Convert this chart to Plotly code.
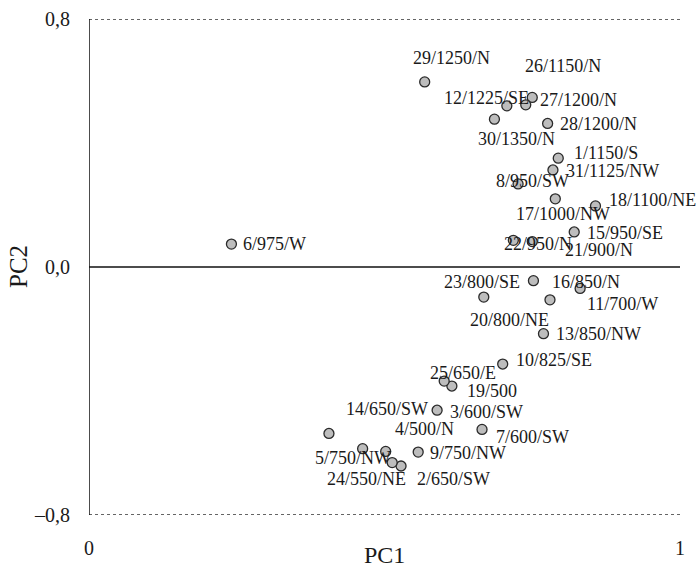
import plotly.graph_objects as go

# ---- data ----
sites = ["1/1150/S", "2/650/SW", "3/600/SW", "4/500/N", "5/750/NW", "6/975/W",
         "7/600/SW", "8/950/SW", "9/750/NW", "10/825/SE", "11/700/W", "12/1225/SE",
         "13/850/NW", "14/650/SW", "15/950/SE", "16/850/N", "17/1000/NW", "18/1100/NE",
         "19/500", "20/800/NE", "21/900/N", "22/950/N", "23/800/SE", "24/550/NE",
         "25/650/E", "26/1150/N", "27/1200/N", "28/1200/N", "29/1250/N", "30/1350/N",
         "31/1125/NW"]
pc1 = [0.794, 0.528, 0.589, 0.502, 0.463, 0.241, 0.665, 0.726, 0.557, 0.700,
       0.780, 0.707, 0.769, 0.406, 0.821, 0.831, 0.789, 0.857, 0.614, 0.668,
       0.750, 0.718, 0.752, 0.513, 0.601, 0.750, 0.739, 0.776, 0.568, 0.686,
       0.785]
pc2 = [0.351, -0.642, -0.462, -0.595, -0.586, 0.074, -0.524, 0.268, -0.597, -0.313,
       -0.106, 0.520, -0.215, -0.537, 0.113, -0.069, 0.220, 0.197, -0.384, -0.097,
       0.082, 0.086, -0.044, -0.631, -0.368, 0.547, 0.523, 0.463, 0.597, 0.477,
       0.313]
y_ticks = [-0.8, 0.0, 0.8]
y_tick_text = ["\u20130,8", "0,0", "0,8"]
x_ticks = [0, 1]
x_tick_text = ["0", "1"]

# label placement (pixel shifts: text left edge, text centre offset downward)
label_shift = {
    "1/1150/S": (14, -5), "2/650/SW": (14, 13), "3/600/SW": (11, 2), "4/500/N": (7, -22),
    "5/750/NW": (-50, 9), "6/975/W": (10, 0), "7/600/SW": (12, 8), "8/950/SW": (-24, -3),
    "9/750/NW": (10, 1), "10/825/SE": (11, -4), "11/700/W": (35, 4), "12/1225/SE": (-65, -8),
    "13/850/NW": (11, 0), "14/650/SW": (15, -24), "15/950/SE": (11, 1), "16/850/N": (-30, -6),
    "17/1000/NW": (-41, 15), "18/1100/NE": (12, -6), "19/500": (13, 5), "20/800/NE": (-16, 23),
    "21/900/N": (31, 8), "22/950/N": (-11, 4), "23/800/SE": (-91, 1), "24/550/NE": (-67, 16),
    "25/650/E": (-16, -8), "26/1150/N": (-9, -31), "27/1200/N": (12, -5), "28/1200/N": (10, 1),
    "29/1250/N": (-14, -24), "30/1350/N": (-18, 20), "31/1125/NW": (11, 1),
}

FONT = "Liberation Serif, Times New Roman, serif"

fig = go.Figure()
fig.add_trace(go.Scatter(
    x=pc1, y=pc2, mode="markers",
    marker=dict(size=10, color="#bdbdbd", line=dict(color="#2a2a2a", width=1.3)),
    hoverinfo="text", text=sites, showlegend=False,
))

annotations = []
for name, xv, yv in zip(sites, pc1, pc2):
    dx, dy = label_shift[name]
    annotations.append(dict(
        x=xv, y=yv, xref="x", yref="y", text=name, showarrow=False,
        xanchor="left", yanchor="middle", xshift=dx, yshift=-dy,
        font=dict(family=FONT, size=18, color="#1a1a1a"),
    ))

annotations.append(dict(x=0.5, y=0, xref="paper", yref="paper", text="PC1",
                        showarrow=False, xanchor="center", yanchor="middle", yshift=-40,
                        font=dict(family=FONT, size=24, color="#1a1a1a")))
annotations.append(dict(x=0, y=0.5, xref="paper", yref="paper", text="PC2",
                        showarrow=False, xanchor="center", yanchor="middle", xshift=-71,
                        textangle=-90, font=dict(family=FONT, size=25, color="#1a1a1a")))

shapes = [
    dict(type="line", xref="x", yref="y", x0=0, x1=1, y0=0.8, y1=0.8,
         line=dict(color="#333333", width=1.5, dash="dot")),
    dict(type="line", xref="x", yref="y", x0=0, x1=1, y0=-0.8, y1=-0.8,
         line=dict(color="#333333", width=1.5, dash="dot")),
    dict(type="line", xref="x", yref="y", x0=0, x1=0, y0=-0.8, y1=0.8,
         line=dict(color="#111111", width=1.5)),
    dict(type="line", xref="x", yref="y", x0=0, x1=1.003, y0=0, y1=0,
         line=dict(color="#111111", width=1.5)),
]

fig.update_layout(
    width=698, height=567,
    margin=dict(l=89, r=18, t=19, b=52, autoexpand=False),
    paper_bgcolor="white", plot_bgcolor="white",
    annotations=annotations, shapes=shapes,
    xaxis=dict(range=[0, 1], tickvals=x_ticks, ticktext=x_tick_text,
               showgrid=False, zeroline=False, showline=False, automargin=False,
               ticks="outside", ticklen=15, tickcolor="rgba(0,0,0,0)",
               tickfont=dict(family=FONT, size=20, color="#1a1a1a")),
    yaxis=dict(range=[-0.8, 0.8], tickvals=y_ticks, ticktext=y_tick_text,
               showgrid=False, zeroline=False, showline=False, automargin=False,
               ticks="outside", ticklen=14, tickcolor="rgba(0,0,0,0)",
               tickfont=dict(family=FONT, size=20, color="#1a1a1a")),
)

fig.write_html("out.html", config={"displayModeBar": False},
               post_script="document.body.style.margin='0';document.body.style.overflow='hidden';")
